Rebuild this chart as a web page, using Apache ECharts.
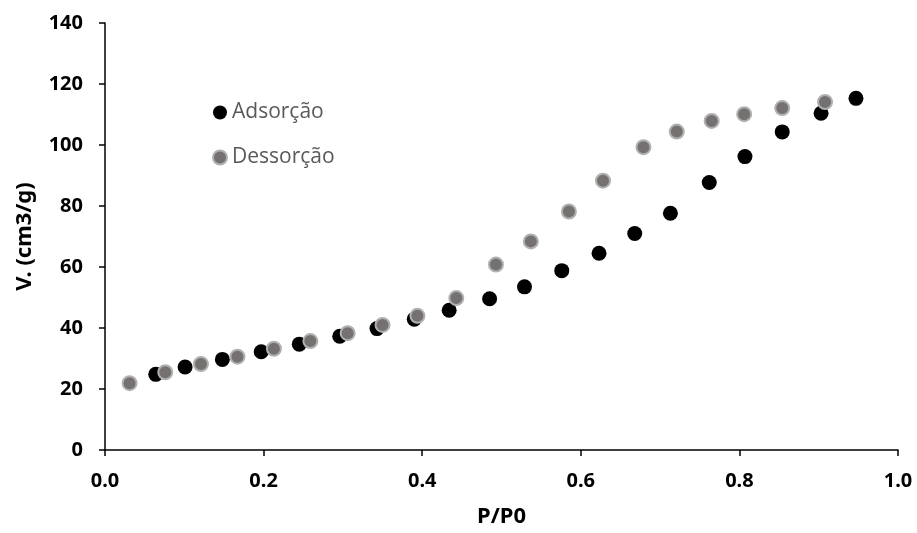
<!DOCTYPE html>
<html>
<head>
<meta charset="utf-8">
<script src="https://cdn.jsdelivr.net/npm/echarts@6/dist/echarts.min.js"></script>
<style>
  html, body { margin: 0; padding: 0; background: #fff; }
  #chart { width: 917px; height: 533px; }
</style>
</head>
<body>
<div id="chart"></div>
<script>
// Adsorção (black)
const adsX = [0.064, 0.101, 0.148, 0.197, 0.245, 0.296, 0.343, 0.390, 0.434, 0.485, 0.529, 0.576, 0.623, 0.668, 0.713, 0.762, 0.807, 0.854, 0.903, 0.947];
const adsY = [24.8, 27.2, 29.7, 32.2, 34.7, 37.3, 39.8, 42.9, 45.8, 49.6, 53.5, 58.8, 64.5, 71.0, 77.6, 87.7, 96.2, 104.3, 110.4, 115.3];
// Dessorção (grey)
const desX = [0.031, 0.076, 0.121, 0.167, 0.213, 0.259, 0.306, 0.350, 0.394, 0.443, 0.493, 0.537, 0.585, 0.628, 0.679, 0.721, 0.765, 0.806, 0.854, 0.908];
const desY = [21.9, 25.5, 28.2, 30.6, 33.2, 35.7, 38.3, 41.0, 44.0, 49.8, 60.8, 68.4, 78.2, 88.3, 99.3, 104.4, 107.9, 110.1, 112.1, 114.1];

const pairs = (xs, ys) => xs.map((x, i) => [x, ys[i]]);

const chart = echarts.init(document.getElementById('chart'));
const labelFont = { fontFamily: 'Noto Sans', fontWeight: 'bold', fontSize: 20, color: '#000' };
const titleFont = { fontFamily: 'Noto Sans', fontWeight: 'bold', fontSize: 22, color: '#000' };

chart.setOption({
  animation: false,
  backgroundColor: '#fff',
  grid: { left: 105, right: 19, top: 23, bottom: 81 },
  legend: {
    orient: 'vertical',
    left: 207,
    top: 97,
    itemGap: 24,
    itemWidth: 14,
    itemHeight: 14,
    textStyle: { fontFamily: 'Open Sans', fontSize: 21, color: '#595959' },
    data: [
      { name: 'Adsorção', icon: 'circle' },
      { name: 'Dessorção', icon: 'circle' }
    ]
  },
  xAxis: {
    type: 'value',
    min: 0, max: 1, interval: 0.2,
    name: 'P/P0',
    nameLocation: 'middle',
    nameGap: 56,
    nameTextStyle: titleFont,
    axisLine: { lineStyle: { color: '#000', width: 1.5 } },
    axisTick: { show: true, length: 6, lineStyle: { color: '#000', width: 1.5 } },
    axisLabel: Object.assign({ margin: 21, formatter: v => v.toFixed(1) }, labelFont),
    splitLine: { show: false }
  },
  yAxis: {
    type: 'value',
    min: 0, max: 140, interval: 20,
    name: 'V. (cm3/g)',
    nameLocation: 'middle',
    nameGap: 69,
    nameTextStyle: titleFont,
    axisLine: { show: true, lineStyle: { color: '#000', width: 1.5 } },
    axisTick: { show: true, length: 6, lineStyle: { color: '#000', width: 1.5 } },
    axisLabel: Object.assign({ margin: 22 }, labelFont),
    splitLine: { show: false }
  },
  series: [
    {
      name: 'Adsorção',
      type: 'scatter',
      symbolSize: 15,
      itemStyle: { color: '#000', opacity: 1 },
      data: pairs(adsX, adsY)
    },
    {
      name: 'Dessorção',
      type: 'scatter',
      symbolSize: 14,
      itemStyle: { color: '#767171', borderColor: '#b0b0b0', borderWidth: 2, opacity: 1 },
      data: pairs(desX, desY)
    }
  ]
});
</script>
</body>
</html>
